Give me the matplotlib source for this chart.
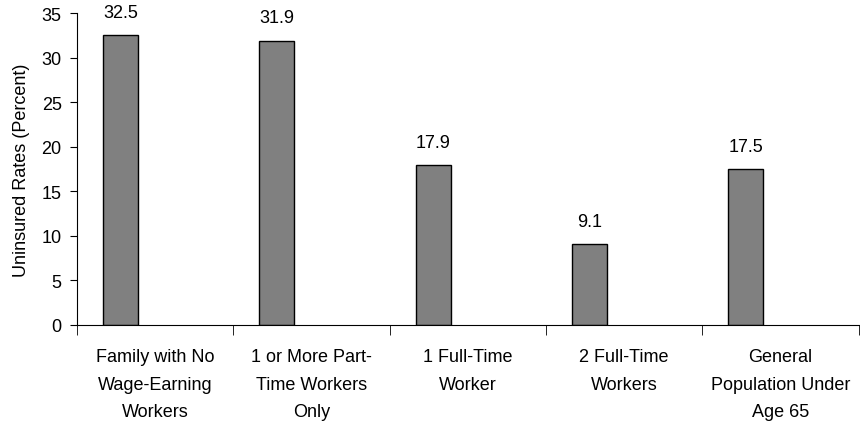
import numpy as np
import matplotlib
matplotlib.use('Agg')
import matplotlib.pyplot as plt

categories = ['Family with No\nWage-Earning\nWorkers',
              '1 or More Part-\nTime Workers\nOnly',
              '1 Full-Time\nWorker',
              '2 Full-Time\nWorkers',
              'General\nPopulation Under\nAge 65']
rates = [32.5, 31.9, 17.9, 9.1, 17.5]

plt.rcParams['font.family'] = ['Liberation Sans', 'DejaVu Sans']
plt.rcParams['font.size'] = 13

fig = plt.figure(figsize=(8.6, 4.27), dpi=100)
ax = fig.add_axes([0.0895, 0.237, 0.909, 0.730])

x = np.arange(len(categories))
bar_offset = -0.222
bars = ax.bar(x + bar_offset, rates, width=0.223, color='#808080',
              edgecolor='black', linewidth=1)

for xi, v in zip(x, rates):
    ax.text(xi + bar_offset, v + 1.6, '%.1f' % v, ha='center', va='bottom')

ax.set_xlim(-0.5, len(categories) - 0.5)
ax.set_ylim(0, 35)
ax.set_yticks(range(0, 36, 5))
ax.set_xticks(x)
ax.set_xticklabels(categories, linespacing=1.8)
ax.set_xticks(np.arange(-0.5, len(categories), 1.0), minor=True)
ax.tick_params(axis='x', which='major', length=0, pad=17)
ax.tick_params(axis='x', which='minor', length=7, direction='out')
ax.tick_params(axis='y', length=5, direction='out', pad=6)

ax.spines['top'].set_visible(False)
ax.spines['right'].set_visible(False)
ax.set_ylabel('Uninsured Rates (Percent)', labelpad=8)

fig.savefig('out.png', dpi=100)
